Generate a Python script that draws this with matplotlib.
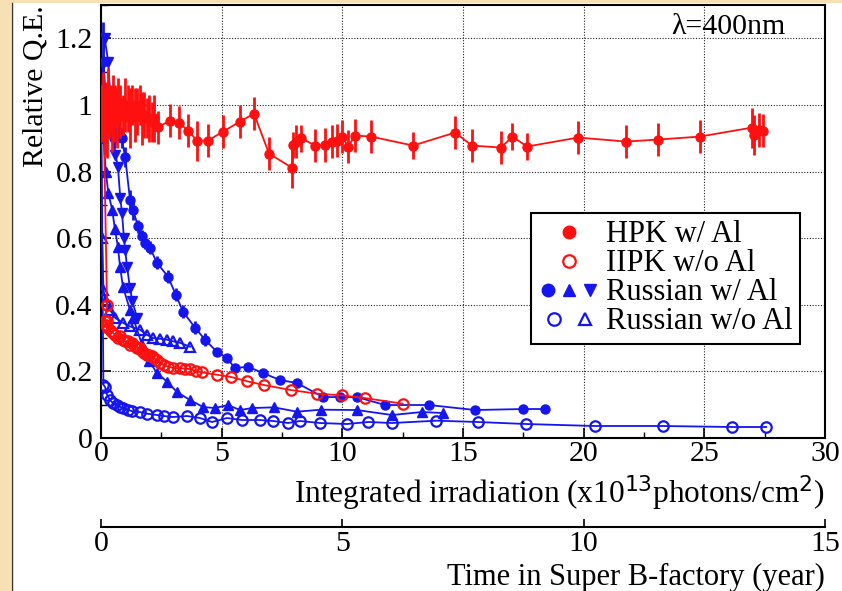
import numpy as np
import matplotlib.pyplot as plt
from matplotlib.ticker import MultipleLocator, FuncFormatter
from matplotlib.lines import Line2D
from matplotlib.legend_handler import HandlerTuple
from matplotlib.patches import Rectangle

plt.rcParams['font.family'] = ['Liberation Serif', 'DejaVu Serif']

RED = "#ff1010"
BLUE = "#1515f0"
FS = 21.5

# --- HPK w/ Al (filled red circles, with error bars) ---
hpk_al_x = [0.0, 0.05, 0.1, 0.15, 0.2, 0.25, 0.3, 0.35, 0.4, 0.45, 0.5, 0.55, 0.6, 0.65,
            0.7, 0.8, 0.9, 1.0, 1.1, 1.2, 1.3, 1.4, 1.5, 1.6, 1.7, 1.8, 1.9, 2.0, 2.1, 2.2,
            2.36, 2.86, 3.23, 3.6, 3.98, 4.43, 5.06, 5.76, 6.34, 6.96, 7.9, 7.96, 8.1, 8.3,
            8.87, 9.28, 9.57, 9.78, 9.99, 10.24, 10.53, 11.19, 12.93, 14.67, 15.37, 16.58,
            17.05, 17.65, 19.77, 21.76, 23.08, 24.82, 26.98, 27.06, 27.25, 27.43]
hpk_al_y = [1.0, 0.97, 1.03, 0.95, 1.01, 0.93, 1.04, 0.98, 1.0, 0.95, 1.02, 0.97, 1.0, 0.96,
            1.01, 0.98, 0.97, 1.0, 0.99, 0.96, 1.0, 0.97, 0.98, 1.0, 0.96, 0.97, 0.96, 0.96, 0.95, 0.96,
            0.933, 0.953, 0.947, 0.923, 0.893, 0.893, 0.92, 0.95, 0.974, 0.854, 0.812, 0.88, 0.89, 0.9,
            0.878, 0.88, 0.89, 0.893, 0.905, 0.875, 0.908, 0.905, 0.878, 0.917, 0.878, 0.872,
            0.905, 0.875, 0.902, 0.89, 0.896, 0.905, 0.932, 0.911, 0.925, 0.923]
hpk_al_err = [0.06, 0.08, 0.07, 0.1, 0.06, 0.09, 0.07, 0.08, 0.06, 0.09, 0.07, 0.08, 0.06, 0.09,
              0.07, 0.08, 0.06, 0.08, 0.07, 0.09, 0.06, 0.08, 0.07, 0.06, 0.08, 0.07, 0.06, 0.07, 0.06, 0.07,
              0.05, 0.05, 0.05, 0.05, 0.06, 0.05, 0.05, 0.05, 0.05, 0.05, 0.06, 0.04, 0.05, 0.04,
              0.05, 0.05, 0.05, 0.05, 0.05, 0.05, 0.05, 0.05, 0.04, 0.05, 0.05, 0.05,
              0.04, 0.04, 0.05, 0.05, 0.05, 0.05, 0.06, 0.06, 0.05, 0.05]

# --- HPK w/o Al (open red circles) ---
hpk_noal_x = [0.1, 0.25, 0.15, 0.2, 0.25, 0.3, 0.4, 0.5, 0.6, 0.7, 0.8, 0.9, 1.0, 1.1, 1.2, 1.3,
              1.4, 1.5, 1.6, 1.7, 1.8, 1.9, 2.0, 2.1, 2.2, 2.3, 2.45, 2.6, 2.78, 3.0, 3.27, 3.5,
              3.69, 3.95, 4.19, 4.8, 5.4, 6.07, 6.75, 7.87, 8.95, 9.99, 10.92, 12.5]
hpk_noal_y = [1.0, 0.40, 0.35, 0.34, 0.35, 0.33, 0.32, 0.315, 0.31, 0.30, 0.305, 0.295, 0.29, 0.29,
              0.28, 0.285, 0.275, 0.27, 0.27, 0.26, 0.255, 0.25, 0.25, 0.245, 0.24, 0.235, 0.225,
              0.22, 0.214, 0.21, 0.21, 0.208, 0.207, 0.20, 0.197, 0.19, 0.183, 0.17, 0.159, 0.144,
              0.133, 0.128, 0.12, 0.103]

# --- Russian w/ Al, circles ---
rus_c_x = [0.0, 0.1, 0.25, 0.4, 0.55, 0.7, 0.85, 1.0, 1.2, 1.33, 1.53, 1.7, 1.82, 2.03, 2.32,
           2.78, 3.1, 3.4, 3.9, 4.31, 4.8, 5.22, 5.55, 6.09, 6.71, 7.42, 8.12, 9.2, 9.9, 10.6,
           11.77, 13.6, 15.5, 17.5, 18.4]
rus_c_y = [1.0, 1.13, 0.97, 0.93, 0.9, 0.92, 0.9, 0.845, 0.716, 0.686, 0.635, 0.605, 0.586, 0.571,
           0.526, 0.484, 0.43, 0.379, 0.331, 0.295, 0.259, 0.24, 0.21, 0.214, 0.195, 0.174, 0.165,
           0.123, 0.123, 0.123, 0.099, 0.099, 0.084, 0.087, 0.087]
rus_c_err = [0.0, 0.12, 0.05, 0.03, 0.03, 0.03, 0.03, 0.03, 0.03, 0.03, 0.02, 0.02, 0.02, 0.02,
             0.02, 0.02, 0.02, 0.02, 0.02, 0.02, 0.01, 0.01, 0.01, 0.01, 0.01, 0.01, 0.01, 0.01,
             0.01, 0.01, 0.01, 0.01, 0.0, 0.0, 0.0]

# --- Russian w/ Al, up triangles ---
rus_t_x = [0.0, 0.1, 0.2, 0.3, 0.46, 0.58, 0.7, 0.79, 0.91, 1.2, 1.33, 1.7, 2.0, 2.32, 2.74, 3.15,
           3.69, 4.23, 4.72, 5.26, 5.76, 6.26, 7.17, 8.12, 9.12, 10.6, 12.06, 13.3, 14.17]
rus_t_y = [1.0, 0.9, 0.8, 0.737, 0.686, 0.626, 0.574, 0.514, 0.454, 0.385, 0.361, 0.28, 0.23, 0.195,
           0.169, 0.138, 0.114, 0.093, 0.09, 0.099, 0.084, 0.09, 0.092, 0.079, 0.085, 0.084, 0.069,
           0.078, 0.075]

# --- Russian w/ Al, down triangles ---
rus_v_x = [0.0, 0.15, 0.3, 0.45, 0.6, 0.7, 0.8, 0.87, 0.95, 1.0, 1.08, 1.2, 1.3, 1.5]
rus_v_y = [1.0, 1.2, 1.13, 0.95, 0.85, 0.815, 0.72, 0.677, 0.6, 0.565, 0.514, 0.45, 0.41, 0.36]

# --- Russian w/o Al, open circles ---
rus_oc_x = [0.0, 0.1, 0.17, 0.25, 0.37, 0.5, 0.65, 0.8, 0.91, 1.1, 1.3, 1.62, 1.9, 2.32, 2.6,
            2.98, 3.56, 4.1, 4.6, 5.22, 5.84, 6.59, 7.13, 7.75, 8.25, 9.08, 10.19, 11.07, 12.06,
            13.9, 15.62, 17.61, 20.47, 23.29, 26.15, 27.56]
rus_oc_y = [1.0, 0.16, 0.153, 0.13, 0.114, 0.105, 0.1, 0.093, 0.09, 0.085, 0.08, 0.078, 0.073,
            0.069, 0.066, 0.063, 0.066, 0.06, 0.048, 0.06, 0.054, 0.054, 0.051, 0.045, 0.051, 0.045,
            0.042, 0.048, 0.045, 0.052, 0.048, 0.042, 0.036, 0.036, 0.033, 0.033]

# --- Russian w/o Al, open triangles ---
rus_ot_x = [0.0, 0.05, 0.1, 0.2, 0.37, 0.6, 0.91, 1.2, 1.62, 1.9, 2.15, 2.45, 2.74, 3.0, 3.27, 3.69]
rus_ot_y = [1.0, 0.6, 0.445, 0.41, 0.385, 0.36, 0.346, 0.335, 0.325, 0.31, 0.3, 0.298, 0.295,
            0.29, 0.286, 0.274]

fig = plt.figure(figsize=(8.42, 5.91), dpi=100)
fig.patches.append(Rectangle((0, 0), 11 / 842, 1, transform=fig.transFigure,
                             facecolor="#f7dfb6", edgecolor="none"))
fig.patches.append(Rectangle((0, 1 - 3 / 591), 1, 3 / 591, transform=fig.transFigure,
                             facecolor="#f7dfb6", edgecolor="none"))
fig.add_artist(Line2D([11.5 / 842, 11.5 / 842], [0, 1 - 3 / 591], transform=fig.transFigure,
                      color="#333333", lw=1))

ax = fig.add_axes([101 / 842, 1 - 438 / 591, 724 / 842, 433 / 591])

ax.errorbar(hpk_al_x, hpk_al_y, yerr=hpk_al_err, color=RED, marker="o", ms=6.5, lw=1.3,
            elinewidth=2, ecolor=RED, capsize=0, zorder=4)
ax.plot(hpk_noal_x, hpk_noal_y, color=RED, marker="o", ms=7.5, mfc="none", mew=1.6, lw=1.3, zorder=4)

ax.errorbar(rus_c_x, rus_c_y, yerr=rus_c_err, xerr=0.08, color=BLUE, marker="o", ms=6.5, lw=1.3,
            elinewidth=2, capsize=0, zorder=3)
ax.plot(rus_t_x, rus_t_y, color=BLUE, marker="^", ms=6.5, lw=1.3, zorder=3)
ax.plot(rus_v_x, rus_v_y, color=BLUE, marker="v", ms=6.5, lw=1.3, zorder=3)
ax.plot(rus_oc_x, rus_oc_y, color=BLUE, marker="o", ms=7.5, mfc="none", mew=1.6, lw=1.3, zorder=3)
ax.plot(rus_ot_x, rus_ot_y, color=BLUE, marker="^", ms=7.5, mfc="none", mew=1.6, lw=1.3, zorder=3)

ax.set_xlim(0, 30)
ax.set_ylim(0, 1.3)
ax.xaxis.set_major_locator(MultipleLocator(5))
ax.xaxis.set_minor_locator(MultipleLocator(2.5))
ax.yaxis.set_major_locator(MultipleLocator(0.2))
ax.yaxis.set_minor_locator(MultipleLocator(0.1))
ax.yaxis.set_major_formatter(FuncFormatter(lambda v, p: "%g" % round(v, 2)))
ax.tick_params(which="both", direction="in", labelsize=FS, top=False, right=False)
ax.tick_params(which="major", length=7, width=1.2)
ax.tick_params(which="minor", length=4, width=1)
ax.tick_params(axis="x", pad=2)
ax.tick_params(axis="y", pad=6)
ax.grid(True, which="major", color="#222222", linestyle=(0, (1, 1.5)), lw=0.8)
for s in ax.spines.values():
    s.set_linewidth(1.5)

ax.set_ylabel("Relative Q.E.", fontsize=FS, loc="top", labelpad=5)
ax.set_xlabel("Integrated irradiation (x10$^{13}$photons/cm$^{2}$)", fontsize=22.5, loc="right",
              labelpad=5)
ax.text(0.945, 0.98, "λ=400nm", transform=ax.transAxes, ha="right", va="top", fontsize=FS)

handles = [
    Line2D([], [], color=RED, marker="o", ms=9, ls="none"),
    Line2D([], [], color=RED, marker="o", ms=9, mfc="none", mew=1.6, ls="none"),
    (Line2D([], [], color=BLUE, marker="o", ms=9, ls="none"),
     Line2D([], [], color=BLUE, marker="^", ms=9, ls="none"),
     Line2D([], [], color=BLUE, marker="v", ms=9, ls="none")),
    (Line2D([], [], color=BLUE, marker="o", ms=9, mfc="none", mew=1.6, ls="none"),
     Line2D([], [], color=BLUE, marker="^", ms=9, mfc="none", mew=1.6, ls="none")),
]
labels = ["HPK w/ Al", "IIPK w/o Al", "Russian w/ Al", "Russian w/o Al"]
leg = ax.legend(handles, labels, loc="lower left", bbox_to_anchor=(0.594, 0.217), fontsize=22,
                handler_map={tuple: HandlerTuple(ndivide=None, pad=0.05)}, handlelength=2.0,
                handletextpad=0.2, labelspacing=0.0, borderpad=0.25, borderaxespad=0,
                fancybox=False, frameon=True, framealpha=1, edgecolor="black")
leg.get_frame().set_linewidth(1.5)

# second axis: time in Super B-factory
ax2 = fig.add_axes([101 / 842, 1 - 527 / 591, 724 / 842, 1e-4])
ax2.set_xlim(0, 15)
ax2.set_yticks([])
for k in ["top", "left", "right"]:
    ax2.spines[k].set_visible(False)
ax2.spines["bottom"].set_linewidth(1.5)
ax2.xaxis.set_major_locator(MultipleLocator(5))
ax2.tick_params(axis="x", direction="in", length=6, width=1.2, labelsize=FS, pad=3)
ax2.set_xlabel("Time in Super B-factory (year)", fontsize=22, loc="right", labelpad=4)

plt.savefig("out.png", dpi=100)
